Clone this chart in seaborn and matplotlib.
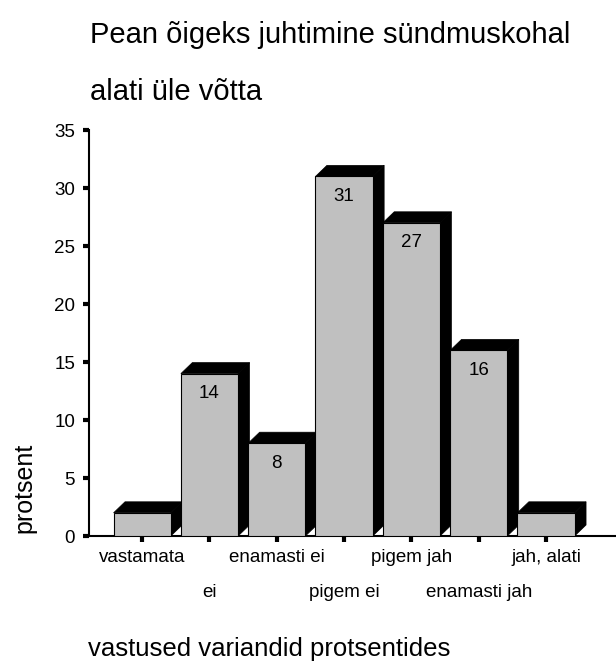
import numpy as np
import seaborn as sns
import matplotlib.pyplot as plt
from matplotlib.patches import Polygon
import pandas as pd

categories = ['vastamata', 'ei', 'enamasti ei', 'pigem ei', 'pigem jah', 'enamasti jah', 'jah, alati']
values = [2, 14, 8, 31, 27, 16, 2]
labels_shown = ['', '14', '8', '31', '27', '16', '']
yticks = [0, 5, 10, 15, 20, 25, 30, 35]

sns.set_style('white')
plt.rcParams['font.family'] = ['Liberation Sans', 'DejaVu Sans']
plt.rcParams['text.color'] = 'black'
plt.rcParams['xtick.color'] = 'black'
plt.rcParams['ytick.color'] = 'black'

df = pd.DataFrame({'kat': categories, 'protsent': values})

fig = plt.figure(figsize=(6.16, 6.62), dpi=100)
ax = fig.add_axes([0.1445, 0.1903, 0.8555, 0.6133])

bar_w = 0.85
sns.barplot(data=df, x='kat', y='protsent', color='#c0c0c0', width=bar_w,
            edgecolor='black', linewidth=0.8, saturation=1, ax=ax, zorder=3)

# black 3d side and top
dx, dy = 0.17, 0.95
for p in ax.patches[:len(values)]:
    x0 = p.get_x()
    x1 = x0 + p.get_width()
    h = p.get_height()
    side = [(x1, 0), (x1 + dx, dy), (x1 + dx, h + dy), (x1, h)]
    top = [(x0, h), (x0 + dx, h + dy), (x1 + dx, h + dy), (x1, h)]
    ax.add_patch(Polygon(side, closed=True, facecolor='black', edgecolor='black', lw=0.5, zorder=2))
    ax.add_patch(Polygon(top, closed=True, facecolor='black', edgecolor='black', lw=0.5, zorder=2))

for i, (v, t) in enumerate(zip(values, labels_shown)):
    if t:
        ax.annotate(t, (i, v), xytext=(0, -20), textcoords='offset pixels',
                    ha='center', va='center', fontsize=13.5, zorder=5)

ax.set_xlim(-0.79, 7.04)
ax.set_ylim(0, 35)
ax.set_yticks(yticks)
ax.set_yticklabels([str(t) for t in yticks], fontsize=13.5)

ax.set_xticks(range(len(categories)))
ax.set_xticklabels(categories, fontsize=13.5)

ax.tick_params(axis='both', direction='out', length=4, width=3, color='black',
               left=True, bottom=True, pad=6)
ax.tick_params(axis='x', pad=5)
# every second label goes to a lower row
for i, tick in enumerate(ax.xaxis.get_major_ticks()):
    if i % 2 == 1:
        tick.set_pad(5 + 25.5)
ax.set_xlabel('')
ax.set_ylabel('')

for s in ['top', 'right']:
    ax.spines[s].set_visible(False)
for s in ['left', 'bottom']:
    ax.spines[s].set_color('black')
    ax.spines[s].set_linewidth(1.5)

fig.text(90 / 616, 1 - 35 / 662, 'Pean õigeks juhtimine sündmuskohal', fontsize=21, ha='left', va='center')
fig.text(90 / 616, 1 - 92 / 662, 'alati üle võtta', fontsize=21, ha='left', va='center')
fig.text(24 / 616, 1 - 488 / 662, 'protsent', fontsize=18, rotation=90, ha='center', va='center')
fig.text(88 / 616, 1 - 649 / 662, 'vastused variandid protsentides', fontsize=18.5, ha='left', va='center')

fig.savefig('out.png', dpi=100)
